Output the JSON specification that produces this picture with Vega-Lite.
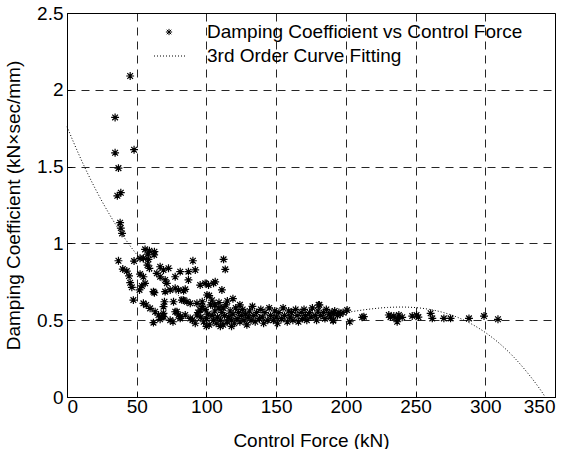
{
  "$schema": "https://vega.github.io/schema/vega-lite/v6.json",
  "width": 488,
  "height": 384,
  "autosize": {"type": "none"},
  "padding": {"left": 67, "top": 13, "right": 16, "bottom": 52},
  "background": "white",
  "config": {
    "font": "Liberation Sans",
    "view": {"stroke": "black", "strokeWidth": 1},
    "axis": {
      "domainColor": "black", "tickColor": "black", "labelColor": "black", "titleColor": "black",
      "labelFontSize": 19, "titleFontSize": 19, "titleFontWeight": "normal",
      "grid": true, "gridColor": "black", "gridDash": [8, 6], "gridOpacity": 0.85, "gridWidth": 1,
      "tickSize": -5
    }
  },
  "datasets": {
    "fit": [
      {"f": 0, "d": 1.76}, {"f": 10, "d": 1.5487}, {"f": 20, "d": 1.3611}, {"f": 30, "d": 1.196},
      {"f": 40, "d": 1.052}, {"f": 50, "d": 0.9278}, {"f": 60, "d": 0.8221}, {"f": 70, "d": 0.7336},
      {"f": 80, "d": 0.661}, {"f": 90, "d": 0.603}, {"f": 100, "d": 0.5582}, {"f": 110, "d": 0.5253},
      {"f": 120, "d": 0.503}, {"f": 130, "d": 0.49}, {"f": 140, "d": 0.485}, {"f": 150, "d": 0.4868},
      {"f": 160, "d": 0.4938}, {"f": 170, "d": 0.5048}, {"f": 180, "d": 0.5188}, {"f": 190, "d": 0.5341},
      {"f": 200, "d": 0.5496}, {"f": 210, "d": 0.5636}, {"f": 220, "d": 0.5752}, {"f": 230, "d": 0.5831},
      {"f": 240, "d": 0.5856}, {"f": 250, "d": 0.582}, {"f": 260, "d": 0.5704}, {"f": 270, "d": 0.5499},
      {"f": 280, "d": 0.5191}, {"f": 290, "d": 0.476}, {"f": 300, "d": 0.4201}, {"f": 310, "d": 0.35},
      {"f": 320, "d": 0.264}, {"f": 330, "d": 0.1605}, {"f": 340, "d": 0.0407}, {"f": 343, "d": 0}
    ],
    "pts": [
      {"f": 34.5, "d": 1.82}, {"f": 45.3, "d": 2.09}, {"f": 34.5, "d": 1.59}, {"f": 36.9, "d": 1.49}, {"f": 48.1, "d": 1.61},
      {"f": 36.1, "d": 1.31}, {"f": 38.6, "d": 1.33}, {"f": 38.1, "d": 1.135}, {"f": 38.6, "d": 1.1}, {"f": 39.5, "d": 1.065},
      {"f": 36.9, "d": 0.887}, {"f": 40, "d": 0.833}, {"f": 42.9, "d": 0.82}, {"f": 44.5, "d": 0.788}, {"f": 45.3, "d": 0.744},
      {"f": 46.5, "d": 0.714}, {"f": 47.6, "d": 0.631}, {"f": 48.1, "d": 0.885}, {"f": 52.4, "d": 0.903}, {"f": 56, "d": 0.961},
      {"f": 59.1, "d": 0.952}, {"f": 62.7, "d": 0.946}, {"f": 62.5, "d": 0.925}, {"f": 54.8, "d": 0.903}, {"f": 58.4, "d": 0.896},
      {"f": 57.7, "d": 0.859}, {"f": 59.1, "d": 0.838}, {"f": 52.4, "d": 0.8}, {"f": 54.8, "d": 0.783}, {"f": 56, "d": 0.74},
      {"f": 53.7, "d": 0.723}, {"f": 52, "d": 0.697}, {"f": 56.8, "d": 0.599}, {"f": 59.6, "d": 0.577}, {"f": 63.2, "d": 0.555},
      {"f": 65.6, "d": 0.534}, {"f": 68, "d": 0.519}, {"f": 62, "d": 0.484}, {"f": 66.8, "d": 0.506}, {"f": 69.2, "d": 0.523},
      {"f": 66.8, "d": 0.848}, {"f": 69.2, "d": 0.827}, {"f": 72.8, "d": 0.838}, {"f": 64.4, "d": 0.805}, {"f": 66.8, "d": 0.783},
      {"f": 70.4, "d": 0.762}, {"f": 71.6, "d": 0.74}, {"f": 62.7, "d": 0.679}, {"f": 70.4, "d": 0.686}, {"f": 74, "d": 0.697},
      {"f": 69.9, "d": 0.62}, {"f": 69.2, "d": 0.588}, {"f": 69.2, "d": 0.545}, {"f": 77.6, "d": 0.783}, {"f": 81.2, "d": 0.816},
      {"f": 77.6, "d": 0.708}, {"f": 76.4, "d": 0.62}, {"f": 77.6, "d": 0.555}, {"f": 80, "d": 0.534}, {"f": 87.1, "d": 0.816},
      {"f": 87.1, "d": 0.762}, {"f": 92, "d": 0.827}, {"f": 90.3, "d": 0.887}, {"f": 80, "d": 0.697}, {"f": 83.6, "d": 0.692},
      {"f": 84.8, "d": 0.701}, {"f": 83.6, "d": 0.631}, {"f": 86, "d": 0.62}, {"f": 81.2, "d": 0.523}, {"f": 84.8, "d": 0.534},
      {"f": 95.5, "d": 0.729}, {"f": 105.1, "d": 0.74}, {"f": 100.4, "d": 0.664}, {"f": 111.1, "d": 0.697}, {"f": 106.3, "d": 0.75},
      {"f": 112.3, "d": 0.896}, {"f": 113.5, "d": 0.831}, {"f": 99.1, "d": 0.74}, {"f": 101.5, "d": 0.729}, {"f": 54.8, "d": 0.61},
      {"f": 82.4, "d": 0.631}, {"f": 88.4, "d": 0.61}, {"f": 78.8, "d": 0.555}, {"f": 81.2, "d": 0.512}, {"f": 88.4, "d": 0.512},
      {"f": 93.2, "d": 0.534}, {"f": 95.5, "d": 0.566}, {"f": 93.2, "d": 0.61}, {"f": 62, "d": 0.686}, {"f": 58, "d": 0.93},
      {"f": 74, "d": 0.5}, {"f": 76, "d": 0.49},
      {"f": 90, "d": 0.5}, {"f": 92, "d": 0.48}, {"f": 94, "d": 0.55}, {"f": 96, "d": 0.52}, {"f": 97, "d": 0.59},
      {"f": 98, "d": 0.49}, {"f": 99, "d": 0.57}, {"f": 100, "d": 0.51}, {"f": 101, "d": 0.54}, {"f": 102, "d": 0.47},
      {"f": 103, "d": 0.6}, {"f": 104, "d": 0.53}, {"f": 105, "d": 0.5}, {"f": 106, "d": 0.56}, {"f": 107, "d": 0.48},
      {"f": 108, "d": 0.52}, {"f": 109, "d": 0.58}, {"f": 110, "d": 0.5}, {"f": 111, "d": 0.55}, {"f": 112, "d": 0.47},
      {"f": 113, "d": 0.53}, {"f": 114, "d": 0.6}, {"f": 115, "d": 0.49}, {"f": 116, "d": 0.52}, {"f": 117, "d": 0.56},
      {"f": 118, "d": 0.5}, {"f": 119, "d": 0.54}, {"f": 120, "d": 0.48}, {"f": 121, "d": 0.58}, {"f": 122, "d": 0.51},
      {"f": 123, "d": 0.55}, {"f": 124, "d": 0.49}, {"f": 125, "d": 0.53}, {"f": 126, "d": 0.57}, {"f": 127, "d": 0.5},
      {"f": 128, "d": 0.54}, {"f": 129, "d": 0.47}, {"f": 130, "d": 0.52}, {"f": 131, "d": 0.56}, {"f": 132, "d": 0.5},
      {"f": 133, "d": 0.59}, {"f": 134, "d": 0.53}, {"f": 135, "d": 0.49}, {"f": 136, "d": 0.55}, {"f": 138, "d": 0.51},
      {"f": 139, "d": 0.57}, {"f": 140, "d": 0.52}, {"f": 141, "d": 0.48}, {"f": 142, "d": 0.55}, {"f": 144, "d": 0.5},
      {"f": 145, "d": 0.58}, {"f": 146, "d": 0.53}, {"f": 148, "d": 0.5}, {"f": 149, "d": 0.56}, {"f": 150, "d": 0.52},
      {"f": 151, "d": 0.48}, {"f": 152, "d": 0.55}, {"f": 154, "d": 0.51}, {"f": 155, "d": 0.58}, {"f": 156, "d": 0.53},
      {"f": 158, "d": 0.49}, {"f": 159, "d": 0.56}, {"f": 160, "d": 0.52}, {"f": 161, "d": 0.55}, {"f": 162, "d": 0.5},
      {"f": 164, "d": 0.57}, {"f": 165, "d": 0.53}, {"f": 166, "d": 0.49}, {"f": 168, "d": 0.55}, {"f": 169, "d": 0.51},
      {"f": 170, "d": 0.57}, {"f": 171, "d": 0.53}, {"f": 172, "d": 0.5}, {"f": 174, "d": 0.55}, {"f": 175, "d": 0.52},
      {"f": 176, "d": 0.58}, {"f": 178, "d": 0.53}, {"f": 179, "d": 0.5}, {"f": 180, "d": 0.56}, {"f": 181, "d": 0.6},
      {"f": 182, "d": 0.53}, {"f": 184, "d": 0.55}, {"f": 185, "d": 0.51}, {"f": 186, "d": 0.57}, {"f": 188, "d": 0.54},
      {"f": 189, "d": 0.52}, {"f": 190, "d": 0.55}, {"f": 191, "d": 0.5}, {"f": 192, "d": 0.56}, {"f": 194, "d": 0.53},
      {"f": 195, "d": 0.55}, {"f": 196, "d": 0.54}, {"f": 198, "d": 0.55},
      {"f": 97, "d": 0.62}, {"f": 104, "d": 0.63}, {"f": 109, "d": 0.615}, {"f": 115, "d": 0.625}, {"f": 119, "d": 0.64},
      {"f": 124, "d": 0.6}, {"f": 102, "d": 0.66}, {"f": 106, "d": 0.6}, {"f": 112, "d": 0.58}, {"f": 100, "d": 0.46},
      {"f": 110, "d": 0.46}, {"f": 118, "d": 0.46},
      {"f": 200.9, "d": 0.566}, {"f": 202.8, "d": 0.49}, {"f": 191.3, "d": 0.545}, {"f": 212.9, "d": 0.523}, {"f": 230.8, "d": 0.534},
      {"f": 234.4, "d": 0.527}, {"f": 238, "d": 0.534}, {"f": 236.8, "d": 0.49}, {"f": 240.4, "d": 0.519}, {"f": 247.6, "d": 0.527},
      {"f": 250.7, "d": 0.534}, {"f": 260.8, "d": 0.545}, {"f": 262, "d": 0.512}, {"f": 270.3, "d": 0.512}, {"f": 275.1, "d": 0.512},
      {"f": 288.3, "d": 0.512}, {"f": 299.1, "d": 0.527}, {"f": 309.1, "d": 0.506}, {"f": 180.5, "d": 0.599}, {"f": 190.9, "d": 0.497},
      {"f": 211.7, "d": 0.519}, {"f": 232, "d": 0.52}, {"f": 237, "d": 0.51}, {"f": 252, "d": 0.52}
    ]
  },
  "layer": [
    {
      "data": {"name": "fit"},
      "mark": {"type": "line", "color": "black", "strokeDash": [1, 2], "strokeWidth": 1, "interpolate": "monotone"},
      "encoding": {
        "x": {"field": "f", "type": "quantitative", "scale": {"domain": [0, 350], "nice": false},
          "axis": {"values": [0, 50, 100, 150, 200, 250, 300, 350], "title": "Control Force (kN)", "labelPadding": 5,
            "titleX": 244, "titleY": 49, "titleBaseline": "alphabetic", "titleAlign": "center"}},
        "y": {"field": "d", "type": "quantitative", "scale": {"domain": [0, 2.5], "nice": false},
          "axis": {"values": [0, 0.5, 1, 1.5, 2, 2.5], "format": "~g", "title": "Damping Coefficient (kN×sec/mm)", "labelPadding": 9,
            "titleX": -48, "titleY": 192, "titleAngle": -90, "titleBaseline": "alphabetic", "titleAlign": "center"}}
      }
    },
    {
      "data": {"name": "pts"},
      "mark": {"type": "point", "filled": false, "color": "black", "strokeWidth": 1.2, "size": 1000, "opacity": 1},
      "encoding": {
        "x": {"field": "f", "type": "quantitative"},
        "y": {"field": "d", "type": "quantitative"},
        "shape": {
          "datum": "Damping Coefficient vs Control Force",
          "scale": {
            "domain": ["Damping Coefficient vs Control Force", "3rd Order Curve Fitting"],
            "range": [
              "M0,-0.25L0,0.25M-0.25,0L0.25,0M-0.18,-0.18L0.18,0.18M-0.18,0.18L0.18,-0.18",
              "M-1.2,0h0.08M-0.96,0h0.08M-0.72,0h0.08M-0.48,0h0.08M-0.24,0h0.08M0,0h0.08M0.24,0h0.08M0.48,0h0.08M0.72,0h0.08M0.96,0h0.08M1.2,0h0.08"
            ]
          },
          "legend": {
            "title": null, "orient": "none", "legendX": 89, "legendY": 6, "padding": 0,
            "labelFontSize": 19, "labelColor": "black", "labelOffset": 25, "labelLimit": 0, "rowPadding": 1,
            "symbolSize": 625, "symbolStrokeWidth": 1, "symbolStrokeColor": "black", "symbolFillColor": "transparent"
          }
        }
      }
    }
  ]
}
